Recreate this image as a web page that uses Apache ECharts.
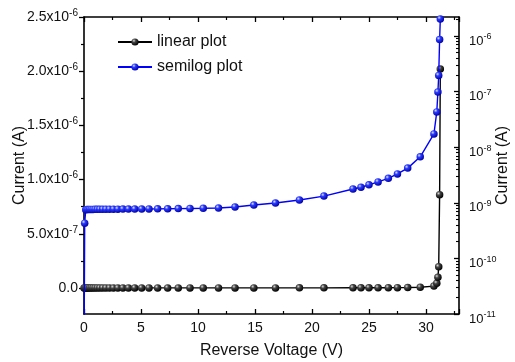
<!DOCTYPE html>
<html>
<head>
<meta charset="utf-8">
<script src="https://cdn.jsdelivr.net/npm/echarts@6/dist/echarts.min.js"></script>
<style>
html,body{margin:0;padding:0;background:#fff;}
#chart{width:515px;height:362px;}
</style>
</head>
<body>
<div id="chart"></div>
<script>
// Reverse voltage (V)
const voltage = [0, 0.06, 0.15, 0.25, 0.36, 0.49, 0.63, 0.79, 0.97, 1.17, 1.39, 1.64, 1.92, 2.23, 2.58, 2.97, 3.41, 3.90, 4.45, 5.06, 5.70, 6.46, 7.34, 8.27, 9.30, 10.46, 11.80, 13.25, 14.90, 16.80, 18.90, 21.05, 23.60, 24.30, 25.00, 25.80, 26.70, 27.50, 28.40, 29.50, 30.70, 30.95, 31.05, 31.12, 31.20, 31.26];
// Current (A)
const current = [1e-12, 4.3e-10, 7.5e-10, 7.55e-10, 7.55e-10, 7.6e-10, 7.6e-10, 7.6e-10, 7.62e-10, 7.62e-10, 7.63e-10, 7.64e-10, 7.65e-10, 7.66e-10, 7.67e-10, 7.68e-10, 7.69e-10, 7.7e-10, 7.7e-10, 7.72e-10, 7.74e-10, 7.77e-10, 7.8e-10, 7.85e-10, 7.9e-10, 7.96e-10, 8.05e-10, 8.4e-10, 9.1e-10, 9.9e-10, 1.12e-9, 1.32e-9, 1.77e-9, 1.9e-9, 2.1e-9, 2.37e-9, 2.75e-9, 3.3e-9, 4.2e-9, 6.7e-9, 1.73e-8, 4.3e-8, 9.8e-8, 1.95e-7, 8.6e-7, 2.02e-6];

const seriesNames = ['linear plot', 'semilog plot'];
const xTicks = [0, 5, 10, 15, 20, 25, 30];
const leftTicks = [0, 5e-7, 1e-6, 1.5e-6, 2e-6, 2.5e-6];
const leftMinorTicks = [2.5e-7, 7.5e-7, 1.25e-6, 1.75e-6, 2.25e-6];
const rightTicks = [1e-11, 1e-10, 1e-9, 1e-8, 1e-7, 1e-6];
const rightMinorMult = [2, 3, 4, 5, 6, 7, 8, 9];

const X_MIN = 0, X_MAX = 32.9;
const L_MIN = -2.4e-7, L_MAX = 2.5e-6;
const R_MIN = 1e-11, R_MAX = 2.19e-6;

const rightMinorTicks = [];
rightTicks.forEach(d => rightMinorMult.forEach(m => { const v = d * m; if (v < R_MAX) rightMinorTicks.push(v); }));

const FONT = 'Liberation Sans, Arial, sans-serif';
const supRich = { sup: { fontSize: 10, fontFamily: FONT, color: '#111', padding: [0, 0, 8, 0] }, base: { fontSize: 14, fontFamily: FONT, color: '#111' } };
const supRichR = { sup: { fontSize: 9, fontFamily: FONT, color: '#111', padding: [0, 0, 8, 0] }, base: { fontSize: 13, fontFamily: FONT, color: '#111' } };

function sciLabel(v) {
  if (Math.abs(v) < 1e-15) return '{base|0.0}';
  const e = Math.floor(Math.log10(Math.abs(v)) + 1e-6);
  const m = v / Math.pow(10, e);
  return '{base|' + m.toFixed(1) + 'x10}{sup|' + e + '}';
}
function powLabel(v) {
  const e = Math.round(Math.log10(v));
  return '{base|10}{sup|' + e + '}';
}

const linData = voltage.map((v, i) => [v, current[i]]);
const logData = voltage.map((v, i) => [v, current[i]]);

const ballBlack = { type: 'radial', x: 0.35, y: 0.32, r: 0.7, colorStops: [{ offset: 0, color: '#d8d8d8' }, { offset: 0.35, color: '#444' }, { offset: 1, color: '#000' }] };
const ballBlue = { type: 'radial', x: 0.35, y: 0.32, r: 0.7, colorStops: [{ offset: 0, color: '#dfe3ff' }, { offset: 0.35, color: '#2b3bff' }, { offset: 1, color: '#0000a8' }] };

const axisLineStyle = { color: '#000', width: 1.6 };
const nameStyle = { fontSize: 16, color: '#111', fontFamily: FONT };

const chart = echarts.init(document.getElementById('chart'), null, { renderer: 'canvas' });
chart.setOption({
  animation: false,
  backgroundColor: '#fff',
  textStyle: { fontFamily: FONT },
  grid: { left: 84, right: 56, top: 17, bottom: 48, containLabel: false, outerBoundsMode: 'none' },
  legend: {
    data: seriesNames,
    orient: 'vertical',
    left: 112,
    top: 29,
    itemWidth: 34,
    itemHeight: 9,
    itemGap: 9,
    textStyle: { fontSize: 16, color: '#111', fontFamily: FONT }
  },
  xAxis: [
    {
      type: 'value', position: 'bottom', min: X_MIN, max: X_MAX, interval: 5,
      name: 'Reverse Voltage (V)', nameLocation: 'middle', nameGap: 29, nameMoveOverlap: false,
      nameTextStyle: nameStyle,
      axisLine: { onZero: false, lineStyle: axisLineStyle },
      axisTick: { inside: true, length: 5, lineStyle: { color: '#000', width: 1.3 } },
      minorTick: { show: true, splitNumber: 2, length: 3, lineStyle: { color: '#000', width: 1.2 } },
      axisLabel: { fontSize: 14, color: '#111', margin: 7, showMaxLabel: false,
        formatter: v => xTicks.indexOf(v) >= 0 ? String(v) : '' },
      splitLine: { show: false }
    },
    {
      type: 'value', position: 'top', min: X_MIN, max: X_MAX, interval: 5,
      axisLine: { onZero: false, lineStyle: axisLineStyle },
      axisTick: { inside: true, length: 5, lineStyle: { color: '#000', width: 1.3 } },
      minorTick: { show: true, splitNumber: 2, length: 3, lineStyle: { color: '#000', width: 1.2 } },
      axisLabel: { show: false },
      splitLine: { show: false }
    }
  ],
  yAxis: [
    {
      type: 'value', position: 'left', min: L_MIN, max: L_MAX,
      name: 'Current (A)', nameLocation: 'middle', nameGap: 56, nameMoveOverlap: false,
      nameTextStyle: nameStyle,
      axisLine: { onZero: false, lineStyle: axisLineStyle },
      axisTick: { inside: false, length: 5, customValues: leftTicks, lineStyle: { color: '#000', width: 1.3 } },
      axisLabel: { customValues: leftTicks, margin: 6, formatter: sciLabel, rich: supRich },
      splitLine: { show: false }
    },
    {
      type: 'value', position: 'left', min: L_MIN, max: L_MAX,
      axisLine: { show: false, onZero: false },
      axisTick: { inside: false, length: 3, customValues: leftMinorTicks, lineStyle: { color: '#000', width: 1.2 } },
      axisLabel: { show: false },
      splitLine: { show: false }
    },
    {
      type: 'log', logBase: 10, position: 'right', min: R_MIN, max: R_MAX,
      name: 'Current (A)', nameLocation: 'middle', nameGap: 36, nameRotate: 90, nameMoveOverlap: false,
      nameTextStyle: nameStyle,
      axisLine: { onZero: false, lineStyle: axisLineStyle },
      axisTick: { inside: true, length: 5, customValues: rightTicks, lineStyle: { color: '#000', width: 1.3 } },
      axisLabel: { customValues: rightTicks, margin: 10, formatter: powLabel, rich: supRichR, padding: [10, 0, 0, 0] },
      splitLine: { show: false }
    },
    {
      type: 'log', logBase: 10, position: 'right', min: R_MIN, max: R_MAX,
      axisLine: { show: false, onZero: false },
      axisTick: { inside: true, length: 3, customValues: rightMinorTicks, lineStyle: { color: '#000', width: 1.1 } },
      axisLabel: { show: false },
      splitLine: { show: false }
    }
  ],
  series: [
    {
      name: seriesNames[0], type: 'line', xAxisIndex: 0, yAxisIndex: 0,
      data: linData, symbol: 'circle', symbolSize: 7.5, showAllSymbol: true,
      lineStyle: { color: '#000', width: 1.4 },
      itemStyle: { color: ballBlack },
      z: 3
    },
    {
      name: seriesNames[1], type: 'line', xAxisIndex: 0, yAxisIndex: 2,
      data: logData, symbol: 'circle', symbolSize: 7.5, showAllSymbol: true,
      lineStyle: { color: '#0000ff', width: 1.4 },
      itemStyle: { color: ballBlue },
      z: 4
    }
  ]
});
</script>
</body>
</html>
